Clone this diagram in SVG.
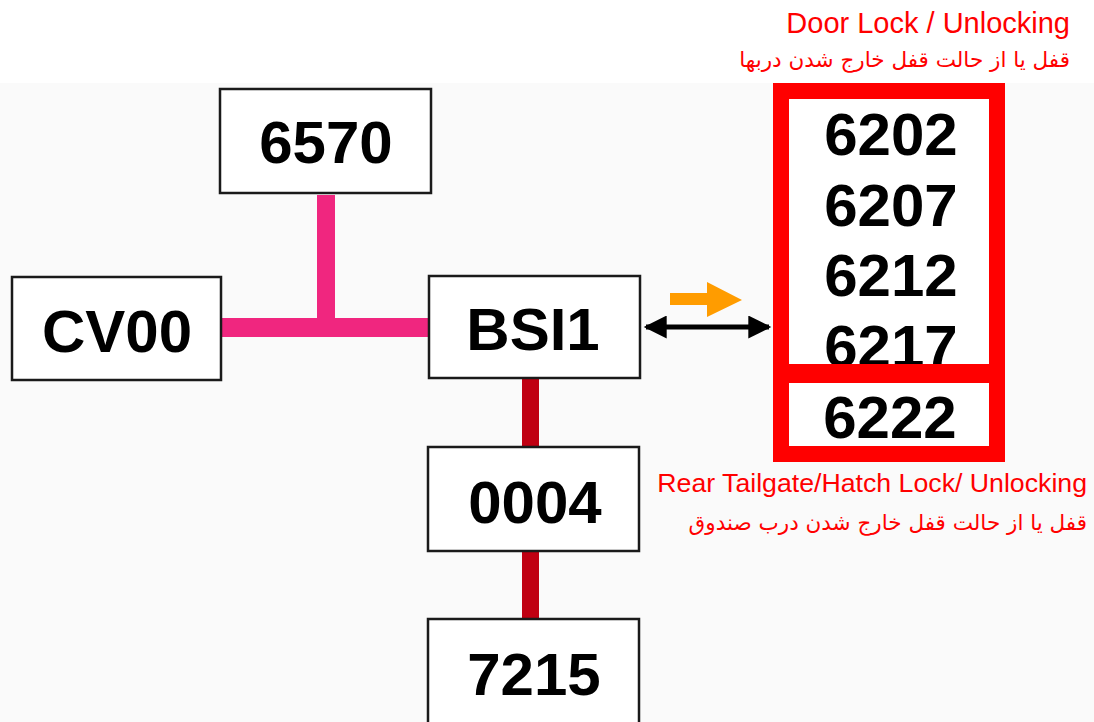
<svg xmlns="http://www.w3.org/2000/svg" width="1094" height="722" viewBox="0 0 1094 722">
<style>
.box{fill:#ffffff;stroke:#1a1a1a;stroke-width:2.5}
.num{font-family:"Liberation Sans",Arial,sans-serif;font-weight:bold;font-size:60px;fill:#000;text-anchor:middle}
.en{font-family:"Liberation Sans",Arial,sans-serif;fill:#ff0000}
.fa{font-family:"DejaVu Sans","Noto Sans",sans-serif;font-size:21.5px;fill:#ff0000}
.pink{fill:#f0267f}
.dred{fill:#c00012}
</style>
<defs>
<marker id="ah" viewBox="0 0 10 10" refX="9" refY="5" markerWidth="5" markerHeight="4.6" orient="auto-start-reverse" markerUnits="strokeWidth">
<path d="M0,0 L10,5 L0,10 z" fill="#000"/>
</marker>
</defs>
<rect x="0" y="0" width="1094" height="722" fill="#ffffff"/>
<rect x="0" y="83" width="1094" height="639" fill="#fafafa"/>

<g id="connectors">
<rect class="pink" x="221" y="318" width="209" height="19"/>
<rect class="pink" x="317" y="195" width="18" height="125"/>
<rect class="dred" x="522" y="378" width="17" height="70"/>
<rect class="dred" x="522" y="550" width="17" height="70"/>
<line x1="646" y1="327" x2="769" y2="327" stroke="#000" stroke-width="5" marker-start="url(#ah)" marker-end="url(#ah)"/>
<path d="M670,293 L707,293 L707,282 L742,300 L707,317 L707,305 L670,305 z" fill="#ff9c00"/>
</g>

<g id="node-6570">
<rect class="box" x="220" y="89" width="211" height="104"/>
<text class="num" x="326" y="163">6570</text>
</g>
<g id="node-CV00">
<rect class="box" x="12" y="277" width="209" height="103"/>
<text class="num" x="117" y="352">CV00</text>
</g>
<g id="node-BSI1">
<rect class="box" x="429" y="276" width="211" height="102"/>
<text class="num" x="533" y="350">BSI1</text>
</g>
<g id="node-0004">
<rect class="box" x="428" y="447" width="211" height="104"/>
<text class="num" x="535" y="523">0004</text>
</g>
<g id="node-7215">
<rect class="box" x="428" y="619" width="211" height="110"/>
<text class="num" x="534" y="695">7215</text>
</g>

<g id="node-door-locks">
<rect x="781" y="91" width="216" height="363" fill="#ffffff"/>
<text class="num" x="891" y="155">6202</text>
<text class="num" x="891" y="226">6207</text>
<text class="num" x="891" y="296">6212</text>
<text class="num" x="891" y="367">6217</text>
<text class="num" x="890" y="438">6222</text>
<rect x="773" y="364" width="232" height="19" fill="#ff0000"/>
<rect x="781" y="91" width="216" height="363" fill="none" stroke="#ff0000" stroke-width="16"/>
</g>

<g id="labels">
<text class="en" x="1070" y="33" font-size="29" text-anchor="end">Door Lock / Unlocking</text>
<text class="fa" x="1070" y="67" direction="rtl" text-anchor="start">قفل یا از حالت قفل خارج شدن دربها</text>
<text class="en" x="1087" y="492" font-size="26.7" text-anchor="end">Rear Tailgate/Hatch Lock/ Unlocking</text>
<text class="fa" x="1087" y="530" direction="rtl" text-anchor="start">قفل یا از حالت قفل خارج شدن درب صندوق</text>
</g>
</svg>
